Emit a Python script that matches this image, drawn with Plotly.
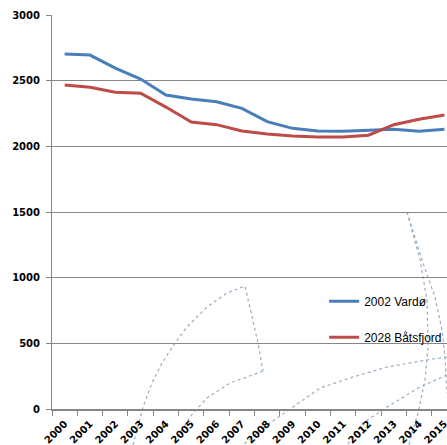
import plotly.graph_objects as go

# ---- data ----
years = ["2000", "2001", "2002", "2003", "2004", "2005", "2006", "2007",
         "2008", "2009", "2010", "2011", "2012", "2013", "2014", "2015"]
vardo = [2703, 2695, 2596, 2512, 2391, 2360, 2340, 2289,
         2188, 2137, 2117, 2114, 2122, 2130, 2114, 2130]
batsfjord = [2467, 2449, 2412, 2404, 2299, 2185, 2165, 2117,
             2094, 2079, 2071, 2071, 2085, 2165, 2206, 2239]
series_names = ["2002 Vardø", "2028 Båtsfjord"]
series_colors = ["#4A7EBB", "#BE4B48"]
y_ticks = [0, 500, 1000, 1500, 2000, 2500, 3000]

W, H = 447, 445
L, R, T, B = 52, 0, 15, 36
PW, PH = W - L - R, H - T - B


def pp(px, py):
    return (px - L) / PW, (H - B - py) / PH


def path(points):
    s = ""
    for i, (x, y) in enumerate(points):
        a, b = pp(x, y)
        s += ("M" if i == 0 else "L") + f"{a:.4f},{b:.4f} "
    return s.strip()


# faint background decoration (sail drawing)
deco = [
    [(133, 445), (143, 407), (152, 383), (162, 363), (175, 343), (187, 327),
     (207, 307), (227, 293), (245, 286), (258, 343), (263, 371)],
    [(263, 371), (247, 377), (230, 383), (207, 398), (193, 413), (173, 443)],
    [(447, 357), (427, 360), (387, 367), (353, 377), (320, 388), (293, 407),
     (270, 423), (243, 445)],
    [(447, 375), (420, 387), (387, 407), (363, 423), (347, 445)],
    [(407, 212), (420, 260), (427, 300), (428, 347), (425, 380), (418, 413),
     (413, 430), (409, 445)],
    [(407, 212), (423, 263), (435, 297), (442, 330), (445, 357), (447, 393)],
]

fig = go.Figure()
for i, (name, vals) in enumerate(zip(series_names, [vardo, batsfjord])):
    fig.add_trace(go.Scatter(
        x=years, y=vals, mode="lines", name=name,
        legendgroup=f"g{i}",
        line=dict(color=series_colors[i], width=3),
    ))

shapes = [dict(type="path", xref="paper", yref="paper", path=path(p),
               line=dict(color="#97AEC0", width=1.2, dash="dot"),
               layer="below") for p in deco]

tickfont = dict(family="DejaVu Sans", size=10, color="#000000", weight="bold")

fig.update_layout(
    width=W, height=H,
    margin=dict(l=L, r=R, t=T, b=B, autoexpand=False),
    paper_bgcolor="white", plot_bgcolor="white",
    shapes=shapes,
    showlegend=True,
    legend=dict(x=0.689, y=0.31, xanchor="left", yanchor="top",
                bgcolor="rgba(0,0,0,0)", traceorder="grouped",
                tracegroupgap=17,
                font=dict(family="Liberation Sans", size=12, color="#000000")),
    xaxis=dict(type="category", categoryorder="array", categoryarray=years,
               range=[-0.5, 15.1], tickson="boundaries", ticks="outside",
               ticklen=5, tickcolor="#868686", showline=True, linewidth=2,
               linecolor="#868686", showgrid=False, tickangle=-45,
               tickfont=tickfont, ticklabelstandoff=3,
               automargin=False, fixedrange=True),
    yaxis=dict(range=[0, 3000], tickvals=y_ticks, ticks="outside", ticklen=5,
               tickcolor="#868686", showline=True, linewidth=1,
               linecolor="#868686", showgrid=True, gridcolor="#868686",
               gridwidth=1, zeroline=False, tickfont=tickfont,
               ticklabelstandoff=4, automargin=False, fixedrange=True),
)

fig.write_html("out.html", config={"displayModeBar": False},
               post_script="document.body.style.margin='0';"
                           "document.body.style.overflow='hidden';")
